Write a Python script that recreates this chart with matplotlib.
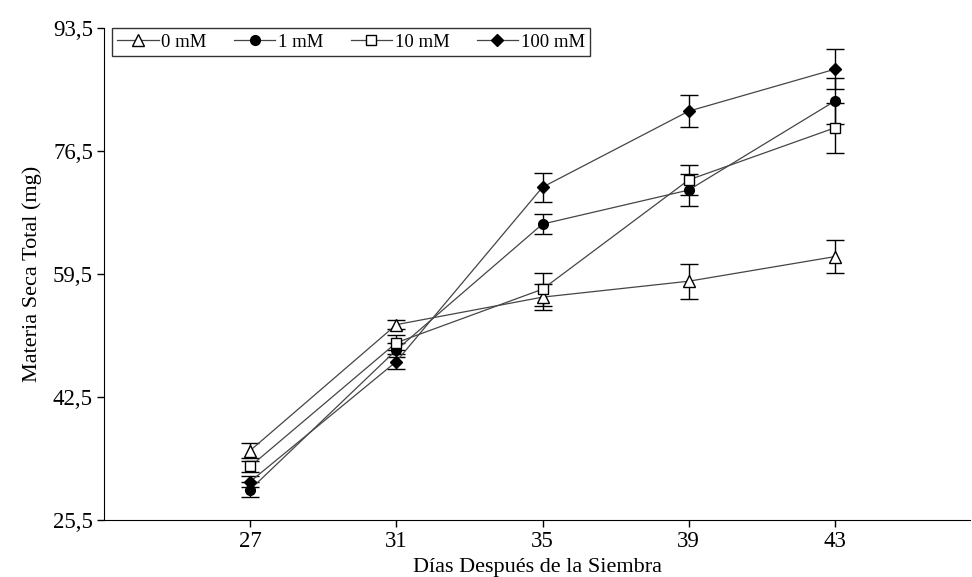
import numpy as np
import matplotlib
matplotlib.use("Agg")
import matplotlib.pyplot as plt

plt.rcParams['font.family'] = ['Liberation Serif', 'DejaVu Serif']

# days after sowing
dias = [27, 31, 35, 39, 43]

# total dry matter (mg) and standard error per treatment
seca_0 = [35.1, 52.5, 56.3, 58.5, 61.9]
err_0 = [1.0, 0.6, 1.8, 2.4, 2.3]
seca_1 = [29.7, 49.0, 66.4, 71.1, 83.4]
err_1 = [1.0, 1.0, 1.4, 2.2, 3.2]
seca_10 = [32.9, 50.0, 57.4, 72.5, 79.7]
err_10 = [0.8, 1.0, 2.3, 2.1, 3.5]
seca_100 = [30.8, 47.4, 71.5, 82.0, 87.8]
err_100 = [0.8, 1.0, 2.0, 2.2, 2.8]

series = [
    ('0 mM', seca_0, err_0, '^', 'white', 8),
    ('1 mM', seca_1, err_1, 'o', 'black', 7),
    ('10 mM', seca_10, err_10, 's', 'white', 7),
    ('100 mM', seca_100, err_100, 'D', 'black', 6),
]

fig = plt.figure(figsize=(9.72, 5.77), dpi=100)
ax = fig.add_axes([0.107, 0.0988, 0.891, 0.8527])

handles = []
for label, y, e, m, fc, ms in series:
    cont = ax.errorbar(dias, y, yerr=e, fmt='-', marker=m, markersize=ms,
                       markerfacecolor=fc, markeredgecolor='black', markeredgewidth=1,
                       color='#454545', linewidth=0.9, ecolor='black', elinewidth=1,
                       capsize=6.5, capthick=1, label=label)
    handles.append(cont[0])

ax.set_xlim(23, 46.7)
ax.set_ylim(25.5, 93.5)
ax.set_xticks(dias)
yt = [25.5, 42.5, 59.5, 76.5, 93.5]
ax.set_yticks(yt)
ax.set_yticklabels([f"{v:.1f}".replace('.', ',') for v in yt])
ax.tick_params(labelsize=16.5, length=5, width=1, direction='out', pad=3)
ax.spines['top'].set_visible(False)
ax.spines['right'].set_visible(False)

ax.set_xlabel('Días Después de la Siembra', fontsize=16, labelpad=4)
ax.set_ylabel('Materia Seca Total (mg)', fontsize=16, labelpad=8)

leg = ax.legend(handles, [s[0] for s in series], loc='upper left', ncol=4,
                fontsize=13.5, frameon=True, fancybox=False, edgecolor='black',
                handlelength=2.2, handletextpad=0.15, columnspacing=1.45,
                borderpad=0.3, borderaxespad=0, bbox_to_anchor=(0.009, 1.0))
leg.get_frame().set_linewidth(1)

fig.savefig('out.png', dpi=100)
